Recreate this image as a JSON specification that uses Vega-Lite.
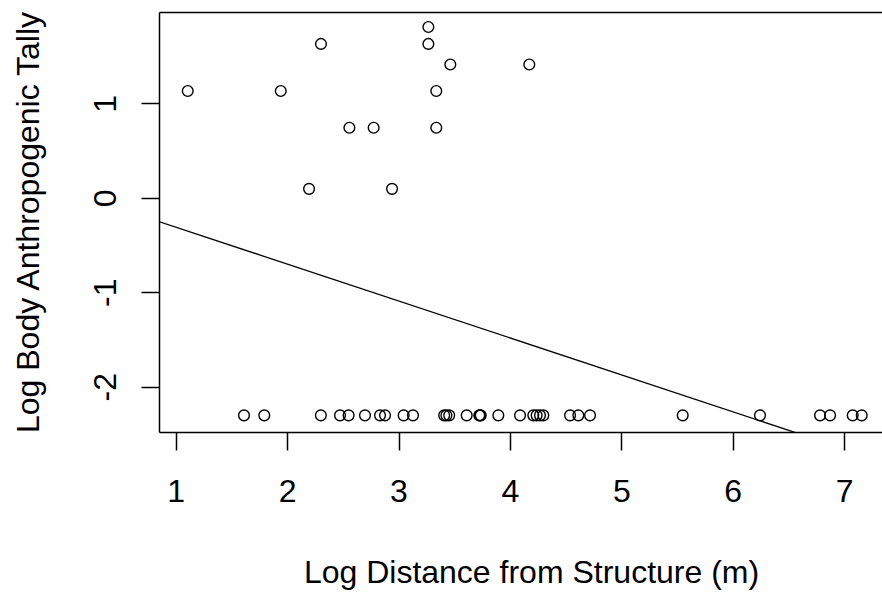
{
  "$schema": "https://vega.github.io/schema/vega-lite/v6.json",
  "width": 723,
  "height": 420,
  "autosize": {"type": "none"},
  "padding": {"left": 159, "top": 12, "right": 0, "bottom": 160},
  "background": "white",
  "config": {
    "view": {"stroke": null},
    "font": "Liberation Sans",
    "axis": {
      "grid": false,
      "domainColor": "black",
      "domainWidth": 1.5,
      "tickColor": "black",
      "tickWidth": 1.5,
      "labelColor": "black",
      "titleColor": "black",
      "labelFont": "Liberation Sans",
      "titleFont": "Liberation Sans",
      "labelFontSize": 32,
      "titleFontSize": 32,
      "titleFontWeight": "normal",
      "labelOverlap": false,
      "labelFlush": false
    }
  },
  "datasets": {
    "points": [
      {"x": 1.108, "y": 1.131},
      {"x": 1.943, "y": 1.131},
      {"x": 2.304, "y": 1.629},
      {"x": 2.559, "y": 0.742},
      {"x": 2.777, "y": 0.742},
      {"x": 2.197, "y": 0.095},
      {"x": 2.942, "y": 0.095},
      {"x": 3.268, "y": 1.808},
      {"x": 3.268, "y": 1.629},
      {"x": 3.465, "y": 1.411},
      {"x": 3.339, "y": 1.131},
      {"x": 3.339, "y": 0.742},
      {"x": 4.174, "y": 1.411},
      {"x": 1.613, "y": -2.303},
      {"x": 1.795, "y": -2.303},
      {"x": 2.303, "y": -2.303},
      {"x": 2.475, "y": -2.303},
      {"x": 2.552, "y": -2.303},
      {"x": 2.699, "y": -2.303},
      {"x": 2.834, "y": -2.303},
      {"x": 2.879, "y": -2.303},
      {"x": 3.046, "y": -2.303},
      {"x": 3.13, "y": -2.303},
      {"x": 3.41, "y": -2.303},
      {"x": 3.43, "y": -2.303},
      {"x": 3.455, "y": -2.303},
      {"x": 3.612, "y": -2.303},
      {"x": 3.725, "y": -2.303},
      {"x": 3.731, "y": -2.303},
      {"x": 3.738, "y": -2.303},
      {"x": 3.896, "y": -2.303},
      {"x": 4.091, "y": -2.303},
      {"x": 4.21, "y": -2.303},
      {"x": 4.24, "y": -2.303},
      {"x": 4.27, "y": -2.303},
      {"x": 4.30, "y": -2.303},
      {"x": 4.54, "y": -2.303},
      {"x": 4.614, "y": -2.303},
      {"x": 4.719, "y": -2.303},
      {"x": 5.551, "y": -2.303},
      {"x": 6.245, "y": -2.303},
      {"x": 6.784, "y": -2.303},
      {"x": 6.874, "y": -2.303},
      {"x": 7.077, "y": -2.303},
      {"x": 7.158, "y": -2.303}
    ],
    "fit": [
      {"x": 0.5, "y": -0.1145},
      {"x": 7.5, "y": -2.8515}
    ]
  },
  "layer": [
    {
      "data": {"name": "points"},
      "mark": {"type": "point", "shape": "circle", "filled": false, "color": "black", "size": 115, "strokeWidth": 1.4, "opacity": 1},
      "encoding": {
        "x": {
          "field": "x", "type": "quantitative",
          "scale": {"domain": [0.85, 7.34], "nice": false, "zero": false},
          "axis": {
            "orient": "bottom",
            "values": [1, 2, 3, 4, 5, 6, 7],
            "labelExpr": "datum.value + ''",
            "tickSize": 18,
            "labelPadding": 26,
            "title": "Log Distance from Structure (m)",
            "titleX": 372,
            "titleY": 150,
            "titleAlign": "center",
            "titleBaseline": "alphabetic"
          }
        },
        "y": {
          "field": "y", "type": "quantitative",
          "scale": {"domain": [-2.479, 1.967], "nice": false, "zero": false},
          "axis": {
            "values": [-2, -1, 0, 1],
            "labelExpr": "datum.value + ''",
            "tickSize": 18,
            "labelPadding": 26,
            "labelAngle": -90,
            "labelAlign": "center",
            "labelBaseline": "alphabetic",
            "title": "Log Body Anthropogenic Tally",
            "titleAngle": -90,
            "titleX": -121,
            "titleY": 210,
            "titleAlign": "center",
            "titleBaseline": "alphabetic"
          }
        }
      }
    },
    {
      "data": {"name": "fit"},
      "mark": {"type": "line", "color": "black", "strokeWidth": 1.3, "clip": true},
      "encoding": {
        "x": {
          "field": "x", "type": "quantitative",
          "axis": {"orient": "top", "labels": false, "ticks": false, "title": null, "grid": false, "domain": true}
        },
        "y": {"field": "y", "type": "quantitative"}
      }
    }
  ]
}
